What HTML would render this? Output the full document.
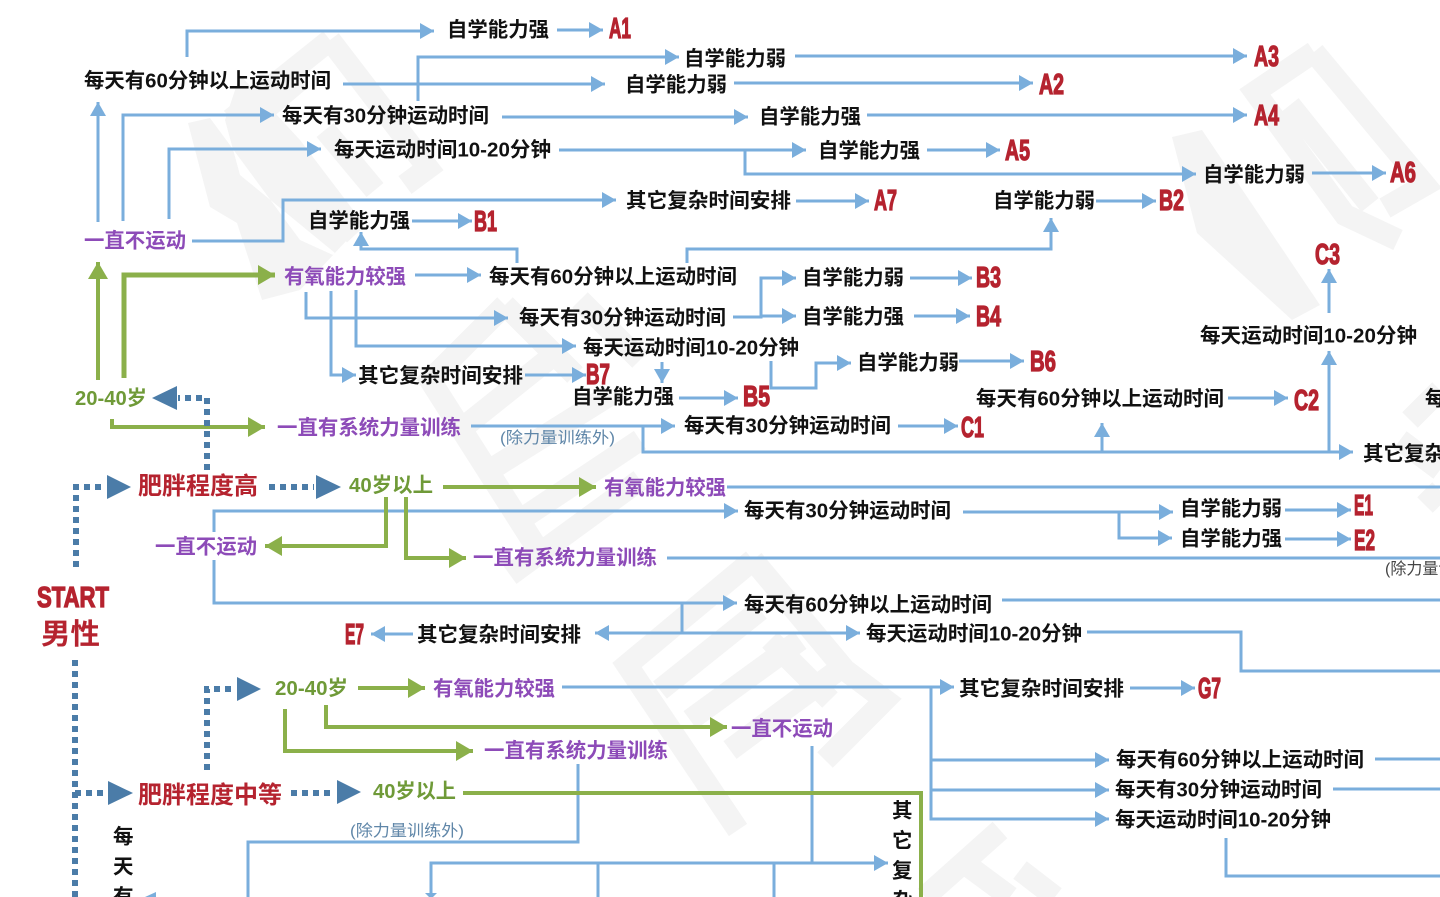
<!DOCTYPE html>
<html lang="zh"><head><meta charset="utf-8"><title>男性</title>
<style>
html,body{margin:0;padding:0;background:#fff;width:1440px;height:897px;overflow:hidden}
svg{display:block;filter:blur(.35px)}
text{font-family:"Liberation Sans","Noto Sans CJK SC",sans-serif}
.k{font-size:20.5px;font-weight:700;fill:#111}
.p{font-size:20.5px;font-weight:700;fill:#8d4bb8}
.g{font-size:20.5px;font-weight:700;fill:#6f9a38}
.r{font-size:24px;font-weight:700;fill:#b5232f}
.l{font-size:29px;font-weight:700;fill:#b5232f;stroke:#b5232f;stroke-width:1.3}
.n{font-size:16px;fill:#5f86a8}
.b{fill:none;stroke:#7aaedc;stroke-width:3}
.v{fill:none;stroke:#8bb04a;stroke-width:4}
.d{fill:none;stroke:#4b7ca8;stroke-width:6;stroke-dasharray:6 5}
.w{fill:none;stroke:#f4f4f4;stroke-width:22}
.wf{fill:#f4f4f4}
</style></head><body>
<svg width="1440" height="897" viewBox="0 0 1440 897" xmlns="http://www.w3.org/2000/svg">
<defs>
<marker id="a" markerUnits="userSpaceOnUse" markerWidth="15" markerHeight="18" refX="14" refY="9" orient="auto"><path d="M0,1L14,9L0,17Z" fill="#7aaedc"/></marker>
<marker id="e" markerUnits="userSpaceOnUse" markerWidth="18" markerHeight="24" refX="17" refY="12" orient="auto"><path d="M0,2L17,12L0,22Z" fill="#8bb04a"/></marker>
</defs>
<!-- watermark -->
<g>
<polygon class="wf" points="188,123 210,118 300,240 333,255 363,223 300,140 240,75 225,120 240,175 335,253 300,290 262,300 237,223 210,207"/>
<path class="w" d="M330,40L240,112L355,235M330,40L428,168L405,185M300,80L262,112M325,130L375,190"/>
<polygon class="wf" points="1172,137 1202,130 1320,305 1292,320 1197,233"/>
<path class="w" d="M1314,52L1255,92L1345,215L1398,240M1314,52L1425,185L1385,208M1290,105L1370,205"/>
<path class="w" d="M505,305L430,380L535,545M505,305L575,375M460,430L560,350M490,470L610,395M520,520L640,440M580,300L640,360M510,575L640,480"/>
<path class="w" d="M753,560L627,665L738,830M753,560L845,670L885,700L825,760M660,690L760,610M690,720L800,640M730,750L845,665M770,640L830,700"/>
<path class="w" d="M1000,830L925,897M960,860L1010,897M1020,870L1055,897M1410,420L1440,390M1440,470L1400,440M1440,490L1425,505"/>
</g>
<!-- blue connectors -->
<g class="b">
<path marker-end="url(#a)" d="M187,57V31H434"/>
<path marker-end="url(#a)" d="M557,30H603"/>
<path marker-end="url(#a)" d="M418,101V57H679"/>
<path marker-end="url(#a)" d="M343,84H605"/>
<path marker-end="url(#a)" d="M795,56H1247"/>
<path marker-end="url(#a)" d="M734,83H1033"/>
<path marker-end="url(#a)" d="M98,222V102"/>
<path marker-end="url(#a)" d="M123,221V115H274"/>
<path marker-end="url(#a)" d="M502,117H748"/>
<path marker-end="url(#a)" d="M867,115H1247"/>
<path marker-end="url(#a)" d="M169,219V149H321"/>
<path marker-end="url(#a)" d="M559,150H806"/>
<path marker-end="url(#a)" d="M745,150V174H1196"/>
<path marker-end="url(#a)" d="M927,150H1000"/>
<path marker-end="url(#a)" d="M1312,173H1386"/>
<path marker-end="url(#a)" d="M192,241H283V200H616"/>
<path marker-end="url(#a)" d="M796,201H869"/>
<path marker-end="url(#a)" d="M412,221H472"/>
<path marker-end="url(#a)" d="M517,263V249H361V232"/>
<path marker-end="url(#a)" d="M687,263V249H1051V218"/>
<path marker-end="url(#a)" d="M1096,201H1156"/>
<path marker-end="url(#a)" d="M415,275H481"/>
<path marker-end="url(#a)" d="M306,292V318H508"/>
<path marker-end="url(#a)" d="M331,291V375H356"/>
<path marker-end="url(#a)" d="M356,290V346H576"/>
<path marker-end="url(#a)" d="M525,375H586"/>
<path marker-end="url(#a)" d="M733,317H761V278H796"/>
<path marker-end="url(#a)" d="M761,316H796"/>
<path marker-end="url(#a)" d="M910,278H972"/>
<path marker-end="url(#a)" d="M914,316H970"/>
<path marker-end="url(#a)" d="M662,362V383"/>
<path marker-end="url(#a)" d="M679,398H738"/>
<path marker-end="url(#a)" d="M771,361V388H816V363H851"/>
<path marker-end="url(#a)" d="M959,361H1024"/>
<path marker-end="url(#a)" d="M1228,398H1288"/>
<path marker-end="url(#a)" d="M471,426H675"/>
<path marker-end="url(#a)" d="M898,426H958"/>
<path marker-end="url(#a)" d="M643,426V452H1353"/>
<path marker-end="url(#a)" d="M1102,452V423"/>
<path marker-end="url(#a)" d="M1329,452V351"/>
<path marker-end="url(#a)" d="M1329,313V269"/>
<path d="M727,487H1440"/>
<path marker-end="url(#a)" d="M214,532V511H738"/>
<path marker-end="url(#a)" d="M214,560V603H737"/>
<path d="M682,603V633"/>
<path marker-end="url(#a)" d="M682,633H860"/>
<path marker-end="url(#a)" d="M682,633H595"/>
<path marker-end="url(#a)" d="M413,634H371"/>
<path d="M667,558H1440"/>
<path marker-end="url(#a)" d="M963,512H1173"/>
<path marker-end="url(#a)" d="M1119,512V538H1172"/>
<path marker-end="url(#a)" d="M1285,510H1351"/>
<path marker-end="url(#a)" d="M1285,539H1351"/>
<path d="M1002,600H1440"/>
<path d="M1087,632H1241V671H1440"/>
<path marker-end="url(#a)" d="M562,687H954"/>
<path marker-end="url(#a)" d="M1130,688H1195"/>
<path marker-end="url(#a)" d="M931,687V819H1109"/>
<path marker-end="url(#a)" d="M931,760H1109"/>
<path marker-end="url(#a)" d="M931,790H1109"/>
<path d="M1375,759H1440"/>
<path d="M1333,789H1440"/>
<path d="M1226,838V876H1440"/>
<path marker-end="url(#a)" d="M812,746V863H888"/>
<path d="M578,764V842H248V897"/>
<path d="M431,897V863H812"/>
<path d="M598,863V897"/>
<path d="M774,863V897"/>
</g>
<polygon points="425,893 437,893 431,899" fill="#7aaedc"/>
<polygon points="145,897 156,892 156,897" fill="#7aaedc"/>
<!-- green connectors -->
<g class="v">
<path marker-end="url(#e)" d="M98,380V262"/>
<path marker-end="url(#e)" style="stroke-width:5" d="M124,378V275H275"/>
<path marker-end="url(#e)" d="M112,419V427H265"/>
<path marker-end="url(#e)" d="M443,487H596"/>
<path marker-end="url(#e)" d="M386,497V546H265"/>
<path marker-end="url(#e)" d="M406,497V558H466"/>
<path marker-end="url(#e)" d="M358,688H425"/>
<path marker-end="url(#e)" d="M285,709V751H473"/>
<path marker-end="url(#e)" d="M326,705V727H727"/>
<path d="M463,793H921V897"/>
</g>
<!-- dark dotted -->
<g class="d">
<path d="M207,470V398H178"/>
<path d="M76,567V487H104"/>
<path d="M269,487H314"/>
<path d="M75,897V658"/>
<path d="M75,793H105"/>
<path d="M291,793H335"/>
<path d="M207,770V689H233"/>
</g>
<g fill="#4b7ca8">
<polygon points="152,398 177,386 177,410"/>
<polygon points="107,475 131,487 107,499"/>
<polygon points="316,475 341,487 316,499"/>
<polygon points="108,781 133,793 108,805"/>
<polygon points="337,780 361,792 337,804"/>
<polygon points="237,677 261,689 237,701"/>
</g>
<!-- black text -->
<g class="k" transform="translate(0,.7)">
<text x="84" y="87" textLength="247" lengthAdjust="spacingAndGlyphs">每天有60分钟以上运动时间</text>
<text x="447" y="36" textLength="102" lengthAdjust="spacingAndGlyphs">自学能力强</text>
<text x="684" y="65" textLength="102" lengthAdjust="spacingAndGlyphs">自学能力弱</text>
<text x="625" y="91" textLength="102" lengthAdjust="spacingAndGlyphs">自学能力弱</text>
<text x="282" y="122" textLength="207" lengthAdjust="spacingAndGlyphs">每天有30分钟运动时间</text>
<text x="759" y="123" textLength="102" lengthAdjust="spacingAndGlyphs">自学能力强</text>
<text x="334" y="156" textLength="217" lengthAdjust="spacingAndGlyphs">每天运动时间10-20分钟</text>
<text x="818" y="157" textLength="102" lengthAdjust="spacingAndGlyphs">自学能力强</text>
<text x="1203" y="181" textLength="102" lengthAdjust="spacingAndGlyphs">自学能力弱</text>
<text x="626" y="207" textLength="165" lengthAdjust="spacingAndGlyphs">其它复杂时间安排</text>
<text x="993" y="207" textLength="102" lengthAdjust="spacingAndGlyphs">自学能力弱</text>
<text x="308" y="227" textLength="102" lengthAdjust="spacingAndGlyphs">自学能力强</text>
<text x="489" y="283" textLength="248" lengthAdjust="spacingAndGlyphs">每天有60分钟以上运动时间</text>
<text x="802" y="284" textLength="102" lengthAdjust="spacingAndGlyphs">自学能力弱</text>
<text x="519" y="324" textLength="207" lengthAdjust="spacingAndGlyphs">每天有30分钟运动时间</text>
<text x="802" y="323" textLength="102" lengthAdjust="spacingAndGlyphs">自学能力强</text>
<text x="583" y="354" textLength="216" lengthAdjust="spacingAndGlyphs">每天运动时间10-20分钟</text>
<text x="857" y="369" textLength="102" lengthAdjust="spacingAndGlyphs">自学能力弱</text>
<text x="1200" y="342" textLength="217" lengthAdjust="spacingAndGlyphs">每天运动时间10-20分钟</text>
<text x="358" y="382" textLength="165" lengthAdjust="spacingAndGlyphs">其它复杂时间安排</text>
<text x="572" y="403" textLength="102" lengthAdjust="spacingAndGlyphs">自学能力强</text>
<text x="976" y="405" textLength="248" lengthAdjust="spacingAndGlyphs">每天有60分钟以上运动时间</text>
<text x="684" y="432" textLength="207" lengthAdjust="spacingAndGlyphs">每天有30分钟运动时间</text>
<text x="1425" y="405">每天有30分钟运动时间</text>
<text x="1363" y="460">其它复杂时间安排</text>
<text x="744" y="517" textLength="207" lengthAdjust="spacingAndGlyphs">每天有30分钟运动时间</text>
<text x="1180" y="515" textLength="102" lengthAdjust="spacingAndGlyphs">自学能力弱</text>
<text x="1180" y="545" textLength="102" lengthAdjust="spacingAndGlyphs">自学能力强</text>
<text x="744" y="611" textLength="248" lengthAdjust="spacingAndGlyphs">每天有60分钟以上运动时间</text>
<text x="417" y="641" textLength="164" lengthAdjust="spacingAndGlyphs">其它复杂时间安排</text>
<text x="866" y="640" textLength="216" lengthAdjust="spacingAndGlyphs">每天运动时间10-20分钟</text>
<text x="959" y="695" textLength="165" lengthAdjust="spacingAndGlyphs">其它复杂时间安排</text>
<text x="1116" y="766" textLength="248" lengthAdjust="spacingAndGlyphs">每天有60分钟以上运动时间</text>
<text x="1115" y="796" textLength="207" lengthAdjust="spacingAndGlyphs">每天有30分钟运动时间</text>
<text x="1115" y="826" textLength="216" lengthAdjust="spacingAndGlyphs">每天运动时间10-20分钟</text>
<text x="113" y="843">每</text><text x="113" y="873">天</text><text x="113" y="903">有</text>
<text x="892" y="817">其</text><text x="892" y="847">它</text><text x="892" y="877">复</text><text x="892" y="907">杂</text>
</g>
<!-- purple -->
<g class="p" transform="translate(0,.7)">
<text x="84" y="247" textLength="102" lengthAdjust="spacingAndGlyphs">一直不运动</text>
<text x="284" y="283" textLength="122" lengthAdjust="spacingAndGlyphs">有氧能力较强</text>
<text x="277" y="434" textLength="184" lengthAdjust="spacingAndGlyphs">一直有系统力量训练</text>
<text x="604" y="494" textLength="122" lengthAdjust="spacingAndGlyphs">有氧能力较强</text>
<text x="155" y="553" textLength="102" lengthAdjust="spacingAndGlyphs">一直不运动</text>
<text x="473" y="564" textLength="184" lengthAdjust="spacingAndGlyphs">一直有系统力量训练</text>
<text x="433" y="695" textLength="122" lengthAdjust="spacingAndGlyphs">有氧能力较强</text>
<text x="731" y="735" textLength="102" lengthAdjust="spacingAndGlyphs">一直不运动</text>
<text x="484" y="757" textLength="184" lengthAdjust="spacingAndGlyphs">一直有系统力量训练</text>
</g>
<!-- green text -->
<g class="g">
<text x="75" y="405" textLength="72" lengthAdjust="spacingAndGlyphs">20-40岁</text>
<text x="349" y="492" textLength="84" lengthAdjust="spacingAndGlyphs">40岁以上</text>
<text x="275" y="695" textLength="73" lengthAdjust="spacingAndGlyphs">20-40岁</text>
<text x="373" y="798" textLength="83" lengthAdjust="spacingAndGlyphs">40岁以上</text>
</g>
<!-- red text -->
<g class="r">
<text x="138" y="494" textLength="120" lengthAdjust="spacingAndGlyphs">肥胖程度高</text>
<text x="138" y="803" textLength="144" lengthAdjust="spacingAndGlyphs">肥胖程度中等</text>
<text x="41" y="644" style="font-size:29px" textLength="59" lengthAdjust="spacingAndGlyphs">男性</text>
</g>
<g class="l">
<text x="37" y="607" textLength="72" lengthAdjust="spacingAndGlyphs">START</text>
<text x="609" y="38" textLength="22" lengthAdjust="spacingAndGlyphs">A1</text>
<text x="1254" y="66" textLength="25" lengthAdjust="spacingAndGlyphs">A3</text>
<text x="1039" y="94" textLength="25" lengthAdjust="spacingAndGlyphs">A2</text>
<text x="1254" y="125" textLength="25" lengthAdjust="spacingAndGlyphs">A4</text>
<text x="1005" y="160" textLength="25" lengthAdjust="spacingAndGlyphs">A5</text>
<text x="1390" y="182" textLength="26" lengthAdjust="spacingAndGlyphs">A6</text>
<text x="874" y="210" textLength="23" lengthAdjust="spacingAndGlyphs">A7</text>
<text x="474" y="231" textLength="23" lengthAdjust="spacingAndGlyphs">B1</text>
<text x="1159" y="210" textLength="25" lengthAdjust="spacingAndGlyphs">B2</text>
<text x="976" y="287" textLength="25" lengthAdjust="spacingAndGlyphs">B3</text>
<text x="976" y="326" textLength="25" lengthAdjust="spacingAndGlyphs">B4</text>
<text x="1030" y="371" textLength="26" lengthAdjust="spacingAndGlyphs">B6</text>
<text x="586" y="384" textLength="24" lengthAdjust="spacingAndGlyphs">B7</text>
<text x="743" y="406" textLength="27" lengthAdjust="spacingAndGlyphs">B5</text>
<text x="961" y="437" textLength="23" lengthAdjust="spacingAndGlyphs">C1</text>
<text x="1294" y="410" textLength="25" lengthAdjust="spacingAndGlyphs">C2</text>
<text x="1315" y="264" textLength="25" lengthAdjust="spacingAndGlyphs">C3</text>
<text x="1354" y="515" textLength="19" lengthAdjust="spacingAndGlyphs">E1</text>
<text x="1354" y="550" textLength="21" lengthAdjust="spacingAndGlyphs">E2</text>
<text x="345" y="644" textLength="19" lengthAdjust="spacingAndGlyphs">E7</text>
<text x="1198" y="698" textLength="23" lengthAdjust="spacingAndGlyphs">G7</text>
</g>
<!-- notes -->
<g class="n">
<text x="500" y="443" textLength="115" lengthAdjust="spacingAndGlyphs">(除力量训练外)</text>
<text x="350" y="836" textLength="114" lengthAdjust="spacingAndGlyphs">(除力量训练外)</text>
<text x="1385" y="574" style="fill:#444">(除力量训练外)</text>
</g>
</svg>
</body></html>
